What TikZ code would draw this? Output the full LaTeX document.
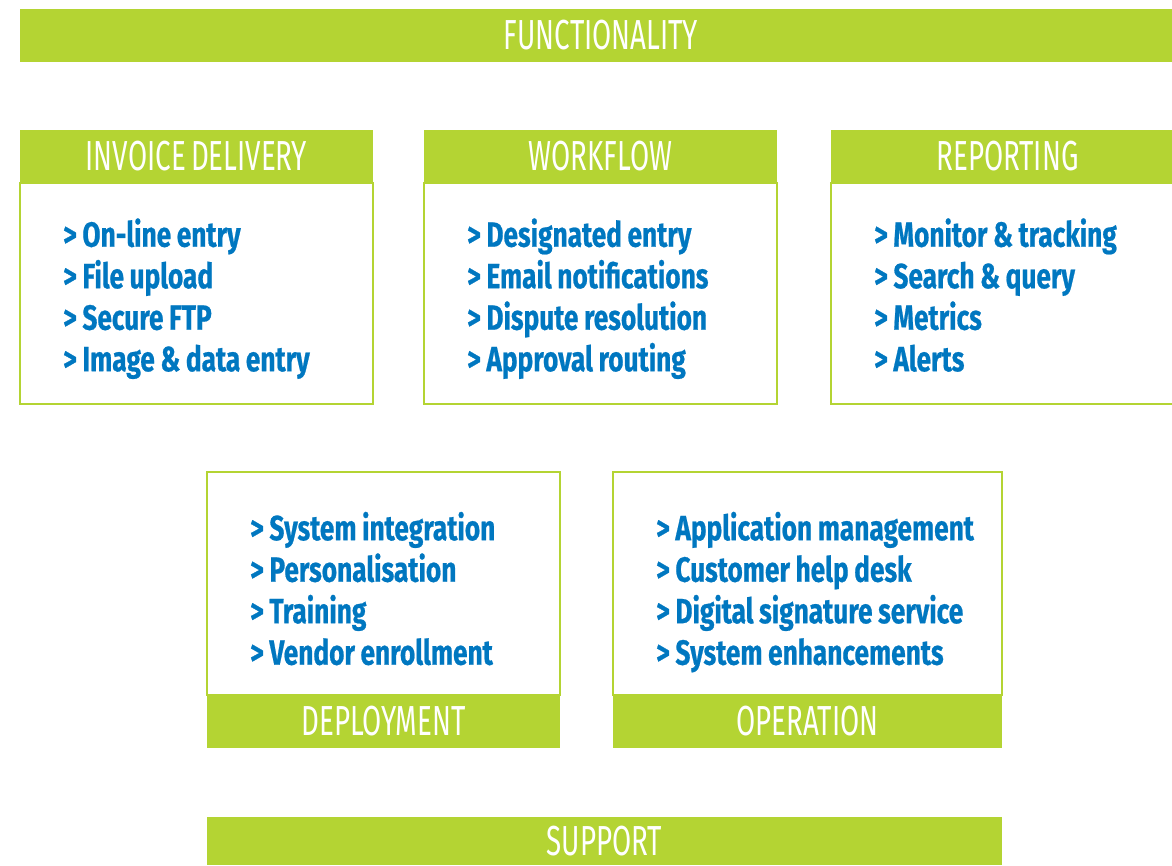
\documentclass[tikz,border=0pt]{standalone}
\usepackage{fontspec}
\setmainfont{Fira Sans}
\newfontfamily\headfont[FakeStretch=0.66, WordSpace=0.7]{Fira Sans}
\newfontfamily\itemfont[FakeStretch=0.75, WordSpace=0.9, FakeBold=0.6]{Fira Sans}
\usepackage{xcolor}
\usepackage{tikz}
\usetikzlibrary{positioning}

\definecolor{lime}{HTML}{B4D433}
\definecolor{itemblue}{HTML}{0077C0}

\begin{document}
\begin{tikzpicture}[x=1pt, y=1pt,
            bar/.style={rectangle, fill=lime, text=white, inner sep=0pt, outer sep=0pt,
                 minimum height=53pt, font=\headfont\fontsize{42}{42}\selectfont},
            body/.style={draw=lime, line width=2.5pt, rectangle, outer sep=0pt, inner sep=0pt},
            items/.style={align=left, text=itemblue, inner sep=0pt, anchor=west,
                 execute at begin node=\strut, execute at end node=\strut,
                 font=\itemfont\bfseries\fontsize{35}{41.5}\selectfont}
            ]
            \useasboundingbox (0,0) rectangle (1172,-865);

            % Top bar
            \node[bar, minimum width=1162pt] (func) at (601,-35.5) {FUNCTIONALITY};

            % Upper boxes, heading on top
            \node[bar, minimum width=353pt] (invh) at (196.5,-156.5) {INVOICE DELIVERY};
            \node[body, below=0pt of invh, minimum width=353pt, minimum height=221pt] (invb) {};
            \node[items, right=43pt of invb.west, yshift=-7.5pt] (invl)
                {> On-line entry\\> File upload\\> Secure FTP\\> Image \& data entry};

            \node[bar, minimum width=353pt] (wfh) at (600.5,-156.5) {WORKFLOW};
            \node[body, below=0pt of wfh, minimum width=353pt, minimum height=221pt] (wfb) {};
            \node[items, right=43pt of wfb.west, yshift=-7.5pt] (wfl)
                {> Designated entry\\> Email notifications\\> Dispute resolution\\> Approval routing};

            \node[bar, minimum width=353pt] (reph) at (1007.5,-156.5) {REPORTING};
            \node[body, below=0pt of reph, minimum width=353pt, minimum height=221pt] (repb) {};
            \node[items, right=43pt of repb.west, yshift=-7.5pt] (repl)
                {> Monitor \& tracking\\> Search \& query\\> Metrics\\> Alerts};

            % Lower boxes, heading below
            \node[bar, minimum width=353pt] (deph) at (383.5,-721.5) {DEPLOYMENT};
            \node[body, above=0pt of deph, minimum width=353pt, minimum height=223pt] (depb) {};
            \node[items, right=43pt of depb.west, yshift=-11pt] (depl)
                {> System integration\\> Personalisation\\> Training\\> Vendor enrollment};

            \node[bar, minimum width=389pt] (oph) at (807.5,-721.5) {OPERATION};
            \node[body, above=0pt of oph, minimum width=389pt, minimum height=223pt] (opb) {};
            \node[items, right=43pt of opb.west, yshift=-11pt] (opl)
                {> Application management\\> Customer help desk\\> Digital signature service\\> System enhancements};

            % Bottom bar
            \node[bar, minimum width=795pt, minimum height=48pt] (supp) at (604.5,-841) {SUPPORT};
        \end{tikzpicture}
\end{document}
